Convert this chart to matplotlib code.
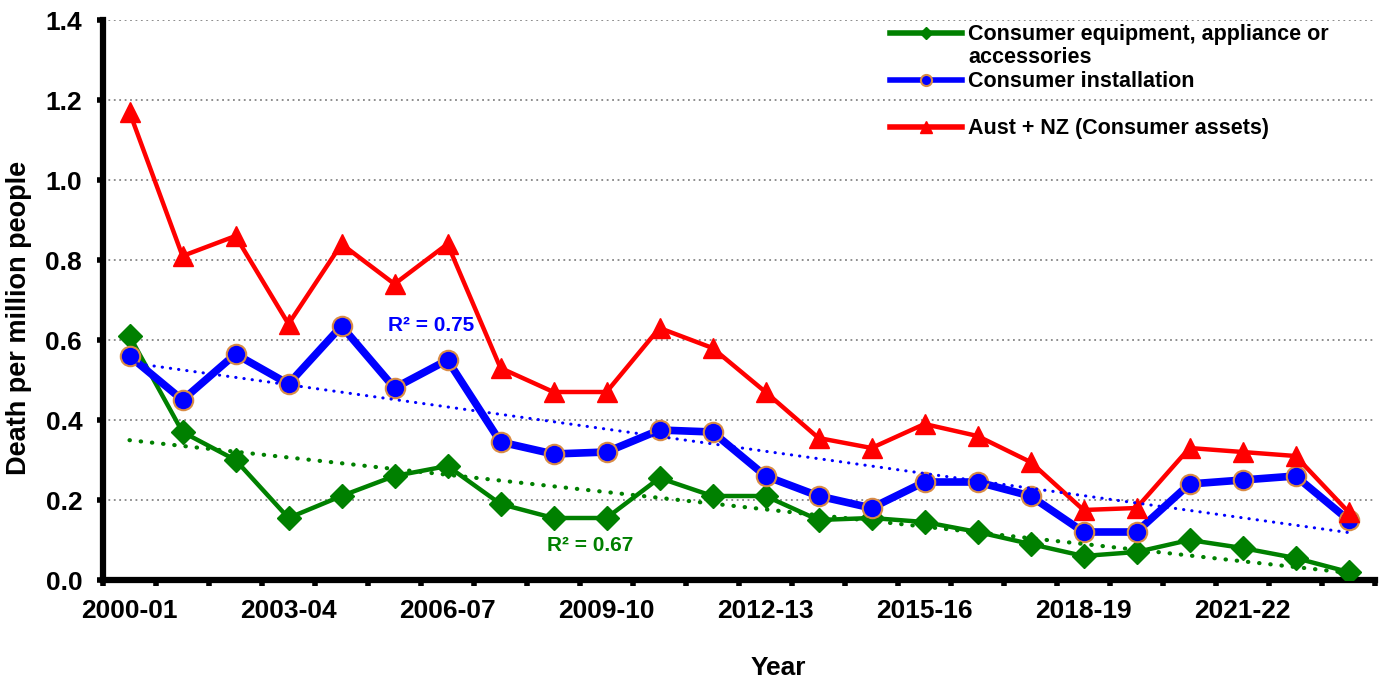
import numpy as np
import matplotlib
matplotlib.use("Agg")
import matplotlib.pyplot as plt
from matplotlib.lines import Line2D

plt.rcParams['font.family'] = ['Liberation Sans', 'DejaVu Sans']
plt.rcParams['font.weight'] = 'bold'

# financial years 2000-01 .. 2023-24
years = ['%d-%02d' % (y, (y + 1) % 100) for y in range(2000, 2024)]

# deaths per million people
equipment = [0.61, 0.37, 0.30, 0.155, 0.21, 0.26, 0.285, 0.19, 0.155, 0.155,
             0.255, 0.21, 0.21, 0.15, 0.155, 0.145, 0.12, 0.09, 0.06, 0.07,
             0.10, 0.08, 0.055, 0.02]
installation = [0.56, 0.45, 0.565, 0.49, 0.635, 0.48, 0.55, 0.345, 0.315, 0.32,
                0.375, 0.37, 0.26, 0.21, 0.18, 0.245, 0.245, 0.21, 0.12, 0.12,
                0.24, 0.25, 0.26, 0.15]
aust_nz = [1.17, 0.81, 0.86, 0.64, 0.84, 0.74, 0.84, 0.53, 0.47, 0.47,
           0.63, 0.58, 0.47, 0.355, 0.33, 0.39, 0.36, 0.295, 0.175, 0.18,
           0.33, 0.32, 0.31, 0.17]

r2_installation = 0.75
r2_equipment = 0.67

GREEN = '#008000'
BLUE = '#0000FF'
RED = '#FF0000'
EDGE = '#D98C45'

x = np.arange(len(years))

fig = plt.figure(figsize=(13.92, 6.82), dpi=100)
ax = fig.add_axes([103 / 1392, 102 / 682, 1272 / 1392, 560 / 682])

ax.grid(axis='y', color='#858585', linestyle=(0, (1, 2)), linewidth=1.3)
ax.set_axisbelow(True)

ax.plot(x, equipment, color=GREEN, lw=3.2, marker='D', ms=12, zorder=3)
ax.plot(x, installation, color=BLUE, lw=5.5, marker='o', ms=14,
        mfc=BLUE, mec=EDGE, mew=1.5, zorder=4)
ax.plot(x, aust_nz, color=RED, lw=3.2, marker='^', ms=14, zorder=5)

# linear trend lines
for series, col, lw in [(equipment, GREEN, 3.0), (installation, BLUE, 2.2)]:
    k, b = np.polyfit(x, series, 1)
    ax.plot(x, k * x + b, color=col, lw=lw, linestyle=(0, (0.1, 2.6)),
            dash_capstyle='round', zorder=6)

ax.text(5.7, 0.637, 'R² = %.2f' % r2_installation, color=BLUE,
        fontsize=15, fontweight='bold', ha='center', va='center')
ax.text(8.7, 0.087, 'R² = %.2f' % r2_equipment, color=GREEN,
        fontsize=15, fontweight='bold', ha='center', va='center')

ax.set_xlim(-0.5, len(years) - 0.5)
ax.set_ylim(0, 1.4)
ax.set_yticks(np.arange(0, 1.41, 0.2))
ax.set_yticklabels(['%.1f' % v for v in np.arange(0, 1.41, 0.2)])

# category boundary ticks, labels every third year
ax.set_xticks(np.arange(-0.5, len(years)), labels=[])
ax.set_xticks(x[::3], labels=years[::3], minor=True)
ax.tick_params(axis='x', which='major', length=4, width=4, direction='out')
ax.tick_params(axis='x', which='minor', length=0, pad=14)
ax.tick_params(axis='y', length=4, width=4, direction='out', pad=11)
for lab in ax.get_xticklabels(minor=True) + ax.get_yticklabels():
    lab.set_fontsize(19)
    lab.set_fontweight('bold')

for side in ['top', 'right']:
    ax.spines[side].set_visible(False)
for side in ['left', 'bottom']:
    ax.spines[side].set_linewidth(4.5)

# axis titles
fig.text(778 / 1392, 1 - 668 / 682, 'Year', fontsize=19, fontweight='bold',
         ha='center', va='center')
fig.text(19 / 1392, 1 - 318 / 682, 'Death per million people', fontsize=19.5,
         fontweight='bold', ha='center', va='center', rotation=90)

# legend, drawn by hand so each handle sits on the first text line
entries = [
    (0.9768, 'Consumer equipment, appliance or\naccessories',
     dict(color=GREEN, marker='D', ms=6)),
    (0.8929, 'Consumer installation',
     dict(color=BLUE, marker='o', ms=8, mfc=BLUE, mec=EDGE, mew=1.5)),
    (0.8089, 'Aust + NZ (Consumer assets)',
     dict(color=RED, marker='^', ms=8)),
]
for ypos, label, style in entries:
    ax.add_line(Line2D([0.6187, 0.647, 0.6753], [ypos] * 3, lw=4,
                       transform=ax.transAxes, clip_on=False,
                       markevery=[1], **style))
    ax.text(0.680, ypos + 0.016, label, transform=ax.transAxes,
            fontsize=15.5, fontweight='bold', va='top', ha='left',
            linespacing=1.15)

fig.savefig('out.png', dpi=100)
